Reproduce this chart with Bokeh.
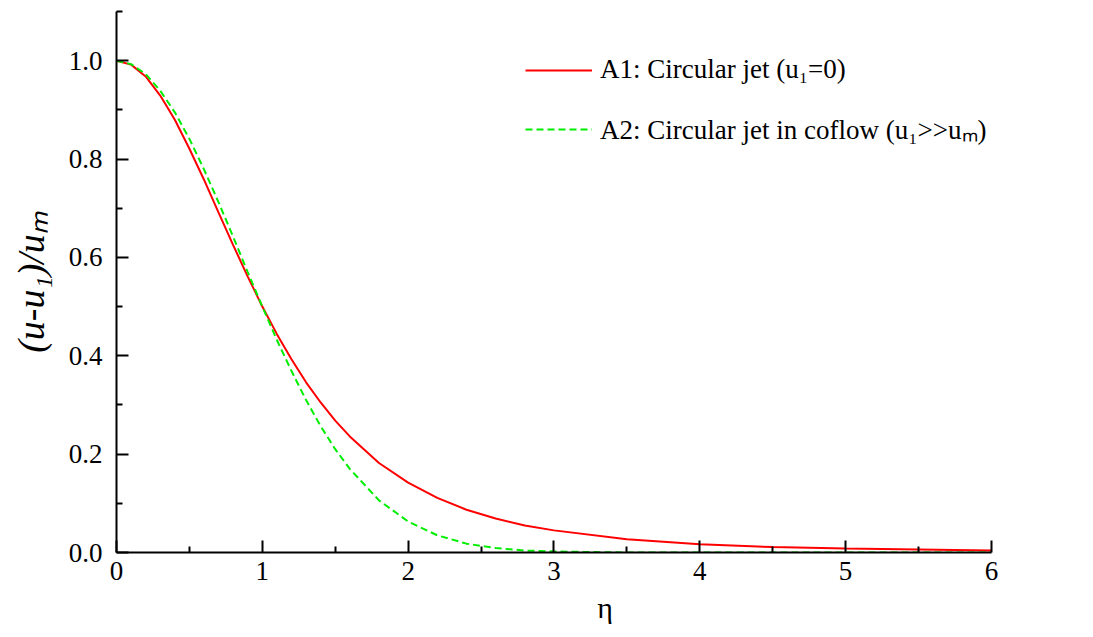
from bokeh.plotting import figure
from bokeh.models import Range1d, Legend, LegendItem, PrintfTickFormatter, FixedTicker
from bokeh.embed import file_html
from bokeh.resources import INLINE

# Similarity coordinate
eta = [0.0, 0.1, 0.2, 0.3, 0.4, 0.5, 0.6, 0.7, 0.8, 0.9, 1.0, 1.1, 1.2, 1.3,
       1.4, 1.5, 1.6, 1.8, 2.0, 2.2, 2.4, 2.6, 2.8, 3.0, 3.5, 4.0, 4.5, 5.0,
       5.5, 6.0]

# A1: circular jet in still surroundings
a1 = [1.000, 0.992, 0.968, 0.929, 0.880, 0.821, 0.758, 0.691, 0.625, 0.561,
      0.500, 0.444, 0.393, 0.346, 0.305, 0.268, 0.236, 0.182, 0.142, 0.111,
      0.087, 0.069, 0.055, 0.045, 0.027, 0.017, 0.011, 0.008, 0.006, 0.004]

# A2: circular jet in strong coflow
a2 = [1.000, 0.993, 0.973, 0.939, 0.895, 0.841, 0.779, 0.712, 0.642, 0.570,
      0.500, 0.432, 0.369, 0.310, 0.257, 0.210, 0.170, 0.106, 0.063, 0.035,
      0.018, 0.009, 0.004, 0.002, 0.000, 0.000, 0.000, 0.000, 0.000, 0.000]

x_ticks = [0, 1, 2, 3, 4, 5, 6]
x_minor = [0.5, 1.5, 2.5, 3.5, 4.5, 5.5]
y_ticks = [0.0, 0.2, 0.4, 0.6, 0.8, 1.0]
y_minor = [0.1, 0.3, 0.5, 0.7, 0.9, 1.1]

FONT = "Liberation Serif"

# The plotting area runs on past eta = 6 so the legend has room on the right;
# the x axis itself is bounded to 0..6.
p = figure(width=1093, height=637, output_backend="svg", toolbar_location=None,
           x_range=Range1d(0, 6.70), y_range=Range1d(0, 1.1),
           min_border_left=116, min_border_right=0,
           min_border_top=11, min_border_bottom=85)
p.outline_line_color = None
p.xgrid.visible = False
p.ygrid.visible = False
p.background_fill_color = "white"
p.border_fill_color = "white"

r1 = p.line(eta, a1, line_color="#ff0000", line_width=2)
r2 = p.line(eta, a2, line_color="#00ee00", line_width=2, line_dash="7 4")

for ax in (p.xaxis[0], p.yaxis[0]):
    ax.axis_line_width = 2
    ax.axis_line_color = "black"
    ax.major_tick_line_width = 2
    ax.minor_tick_line_width = 2
    ax.major_tick_in = 12
    ax.major_tick_out = 0
    ax.minor_tick_in = 6
    ax.minor_tick_out = 0
    ax.major_label_text_font = FONT
    ax.major_label_text_font_size = "27px"
    ax.major_label_text_color = "black"
    ax.axis_label_text_font = FONT
    ax.axis_label_text_color = "black"

p.xaxis.bounds = (0, 6)
p.xaxis.ticker = FixedTicker(ticks=x_ticks, minor_ticks=x_minor)
p.yaxis.ticker = FixedTicker(ticks=y_ticks, minor_ticks=y_minor)
p.xaxis.formatter = PrintfTickFormatter(format="%d")
p.yaxis.formatter = PrintfTickFormatter(format="%.1f")
p.xaxis.major_label_standoff = 9
p.yaxis.major_label_standoff = 14

p.xaxis.axis_label = "η"
p.xaxis.axis_label_text_font_size = "30px"
p.xaxis.axis_label_text_font_style = "normal"
p.xaxis.axis_label_standoff = 8

p.yaxis.axis_label = "(u-u\u2081)/u\u2098"
p.yaxis.axis_label_text_font_size = "38px"
p.yaxis.axis_label_text_font_style = "italic"
p.yaxis.axis_label_standoff = 14

legend = Legend(items=[
    LegendItem(label="A1: Circular jet (u\u2081=0)", renderers=[r1]),
    LegendItem(label="A2: Circular jet in coflow (u\u2081>>u\u2098)", renderers=[r2]),
], location=(409, 405))
legend.border_line_color = None
legend.background_fill_alpha = 0
legend.label_text_font = FONT
legend.label_text_font_size = "27px"
legend.label_text_color = "black"
legend.glyph_width = 67
legend.glyph_height = 30
legend.label_height = 30
legend.spacing = 25
legend.padding = 0
legend.margin = 0
legend.label_standoff = 8
p.add_layout(legend, "center")

open("out.html", "w").write(file_html(p, INLINE))
